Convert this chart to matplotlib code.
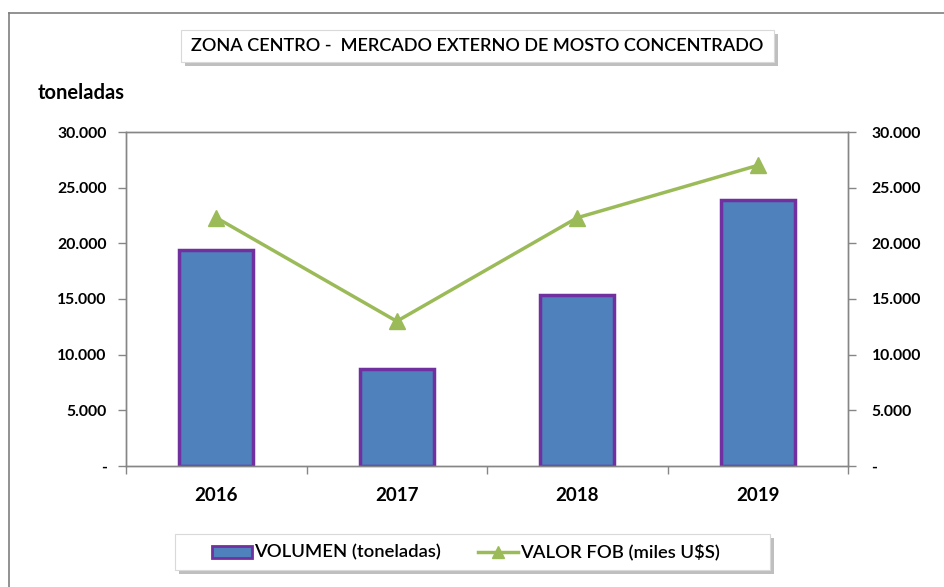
import numpy as np
import matplotlib
matplotlib.use("Agg")
import matplotlib.pyplot as plt
from matplotlib.patches import Rectangle
from matplotlib.lines import Line2D
from matplotlib.ticker import FuncFormatter

years = ["2016", "2017", "2018", "2019"]
volumen = [19400, 8700, 15400, 23900]
valor_fob = [22300, 13000, 22300, 27000]
yticks = [0, 5000, 10000, 15000, 20000, 25000, 30000]

FONT = "Lato"
plt.rcParams["font.family"] = [FONT, "DejaVu Sans"]

W, H = 944, 587
fig = plt.figure(figsize=(W / 100, H / 100), dpi=100)


def fx(px):
    return px / W


def fy(py):
    return 1 - py / H


# outer chart border (left and top only visible)
fig.add_artist(Line2D([fx(9), fx(9)], [fy(13), 0], color="#7f7f7f", lw=1.2, transform=fig.transFigure))
fig.add_artist(Line2D([fx(9), 1], [fy(13), fy(13)], color="#7f7f7f", lw=1.2, transform=fig.transFigure))

ax = fig.add_axes([fx(126), fy(466), fx(848) - fx(126), fy(132) - fy(466)])
x = np.arange(len(years))
ax.bar(x, volumen, width=0.41, color="#4f81bd", edgecolor="#7030a0", linewidth=2.5, zorder=2)
ax.set_xlim(-0.5, len(years) - 0.5)
ax.set_ylim(0, 30000)

ax2 = ax.twinx()
ax2.plot(x, valor_fob, color="#9bbb59", lw=2.5, marker="^", markersize=11, zorder=3)
ax2.set_ylim(0, 30000)


def fmt(v, pos):
    if v == 0:
        return "-"
    return f"{int(v):,}".replace(",", ".")


for a in (ax, ax2):
    a.set_yticks(yticks)
    a.yaxis.set_major_formatter(FuncFormatter(fmt))
    for s in a.spines.values():
        s.set_color("#868686")
        s.set_linewidth(1)
ax.tick_params(axis="y", length=6, width=1, color="#868686", labelsize=11.3, pad=8)
ax2.tick_params(axis="y", length=6, width=1, color="#868686", labelsize=11.3, pad=11)
for lab in ax.get_yticklabels() + ax2.get_yticklabels():
    lab.set_fontweight("bold")

ax.set_xticks(x)
ax.set_xticklabels(years, fontsize=13.5, fontweight="bold")
ax.set_xticks(np.arange(-0.5, len(years), 1), minor=True)
ax.tick_params(axis="x", which="major", length=0, pad=15)
ax.tick_params(axis="x", which="minor", length=6, width=1, color="#868686")

fig.text(fx(38), fy(93), "toneladas", fontsize=14.5, fontweight="bold", ha="left", va="center")

# title box with shadow
fig.add_artist(Rectangle((fx(185), fy(66)), fx(774) - fx(181), fy(30) - fy(62),
                         transform=fig.transFigure, facecolor="#bfbfbf", edgecolor="none", zorder=1))
fig.add_artist(Rectangle((fx(181), fy(62)), fx(774) - fx(181), fy(30) - fy(62),
                         transform=fig.transFigure, facecolor="white", edgecolor="#d9d9d9", lw=0.8, zorder=2))
fig.text(fx(477), fy(46), "ZONA CENTRO -  MERCADO EXTERNO DE MOSTO CONCENTRADO",
         fontsize=13.1, fontweight="semibold", ha="center", va="center", zorder=3)

# legend box with shadow
fig.add_artist(Rectangle((fx(179), fy(574)), fx(770) - fx(175), fy(534) - fy(570),
                         transform=fig.transFigure, facecolor="#bfbfbf", edgecolor="none", zorder=1))
fig.add_artist(Rectangle((fx(175), fy(570)), fx(770) - fx(175), fy(534) - fy(570),
                         transform=fig.transFigure, facecolor="white", edgecolor="#d9d9d9", lw=0.8, zorder=2))
fig.add_artist(Rectangle((fx(212), fy(558)), fx(252) - fx(212), fy(546) - fy(558),
                         transform=fig.transFigure, facecolor="#4f81bd", edgecolor="#7030a0", lw=2, zorder=3))
fig.text(fx(254), fy(552), "VOLUMEN (toneladas)", fontsize=13.3, fontweight="semibold",
         ha="left", va="center", zorder=3)
fig.add_artist(Line2D([fx(478), fx(498), fx(518)], [fy(552)] * 3, color="#9bbb59", lw=2.5,
                      marker="^", markersize=8, markevery=[1], transform=fig.transFigure, zorder=3))
fig.text(fx(520), fy(552), "VALOR FOB (miles U$S)", fontsize=13.3, fontweight="semibold",
         ha="left", va="center", zorder=3)

fig.savefig("out.png", dpi=100)
